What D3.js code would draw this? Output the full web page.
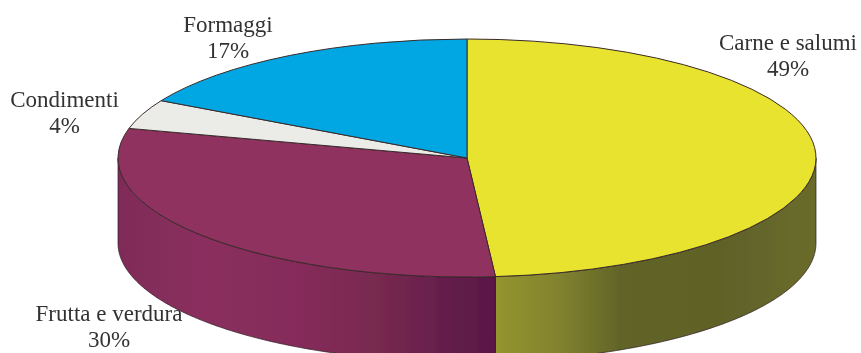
<!DOCTYPE html>
<html><head><meta charset="utf-8">
<script src="https://cdn.jsdelivr.net/npm/d3@7/dist/d3.min.js"></script>
<style>html,body{margin:0;padding:0;background:#fff;overflow:hidden}</style>
</head><body><div id="c"></div>
<script>
const categories = ["Carne e salumi","Frutta e verdura","Condimenti","Formaggi"];
const values = [48.7,30.3,4,17];
const percentLabels = ["49%","30%","4%","17%"];
const topColors = ["#e8e32f","#8f3060","#ebebe8","#03a7e3"];
const labelX = [788,109,64.5,228];
const labelY = [50,321,107,32];
const W=861,H=353,cx=467,cy=158,rx=349,ry=119,depth=85;

const svg=d3.select("#c").append("svg").attr("width",W).attr("height",H).style("display","block");
const defs=svg.append("defs");
defs.append("filter").attr("id","soft").attr("x","-5%").attr("y","-5%").attr("width","110%").attr("height","110%")
  .append("feGaussianBlur").attr("stdDeviation",0.55);
function grad(id,stops){
  const g=defs.append("linearGradient").attr("id",id).attr("gradientUnits","userSpaceOnUse")
    .attr("x1",cx-rx).attr("x2",cx+rx).attr("y1",0).attr("y2",0);
  stops.forEach(([x,c])=>g.append("stop").attr("offset",(x-(cx-rx))/(2*rx)).attr("stop-color",c));
}
grad("purpleSide",[[118,"#7f2c58"],[200,"#8a2e5e"],[300,"#852c5a"],[380,"#77294f"],[440,"#651f4c"],[495,"#5a1747"]]);
grad("yellowSide",[[495,"#94952f"],[560,"#81822f"],[620,"#626428"],[720,"#5f6128"],[816,"#6a6c2c"]]);

const pie=d3.pie().sort(null).value(d=>d);
const arcs=pie(values);
const root=svg.append("g").attr("filter","url(#soft)");
const px=a=>cx+rx*Math.sin(a), py=a=>cy-ry*Math.cos(a);

const lo=Math.PI/2, hi=3*Math.PI/2;
const sideArea=d3.area().x(d=>px(d)).y0(d=>py(d)).y1(d=>py(d)+depth);
const sides=[[0,"url(#yellowSide)"],[1,"url(#purpleSide)"]];
sides.forEach(([i,fill])=>{
  const a0=Math.max(arcs[i].startAngle,lo), a1=Math.min(arcs[i].endAngle,hi);
  root.append("path").datum(d3.range(0,121).map(k=>a0+(a1-a0)*k/120))
    .attr("d",sideArea).attr("fill",fill).attr("stroke","#2b1a20").attr("stroke-width",0.7);
});

const arcGen=d3.arc().innerRadius(0).outerRadius(rx);
const topG=root.append("g").attr("transform",`translate(${cx},${cy}) scale(1,${ry/rx})`);
topG.selectAll("path").data(arcs).join("path")
  .attr("d",arcGen).attr("fill",(d,i)=>topColors[i])
  .attr("stroke","#3a2a2a").attr("stroke-width",1).attr("vector-effect","non-scaling-stroke");

const t=root.selectAll("text.l").data(categories).join("text").attr("class","l")
  .attr("text-anchor","middle").attr("font-family","'Liberation Serif',serif").attr("font-size",23)
  .attr("fill","#333");
t.each(function(d,i){
  const s=d3.select(this);
  s.append("tspan").attr("x",labelX[i]).attr("y",labelY[i]).text(d);
  s.append("tspan").attr("x",labelX[i]).attr("y",labelY[i]+26).text(percentLabels[i]);
});
</script></body></html>
